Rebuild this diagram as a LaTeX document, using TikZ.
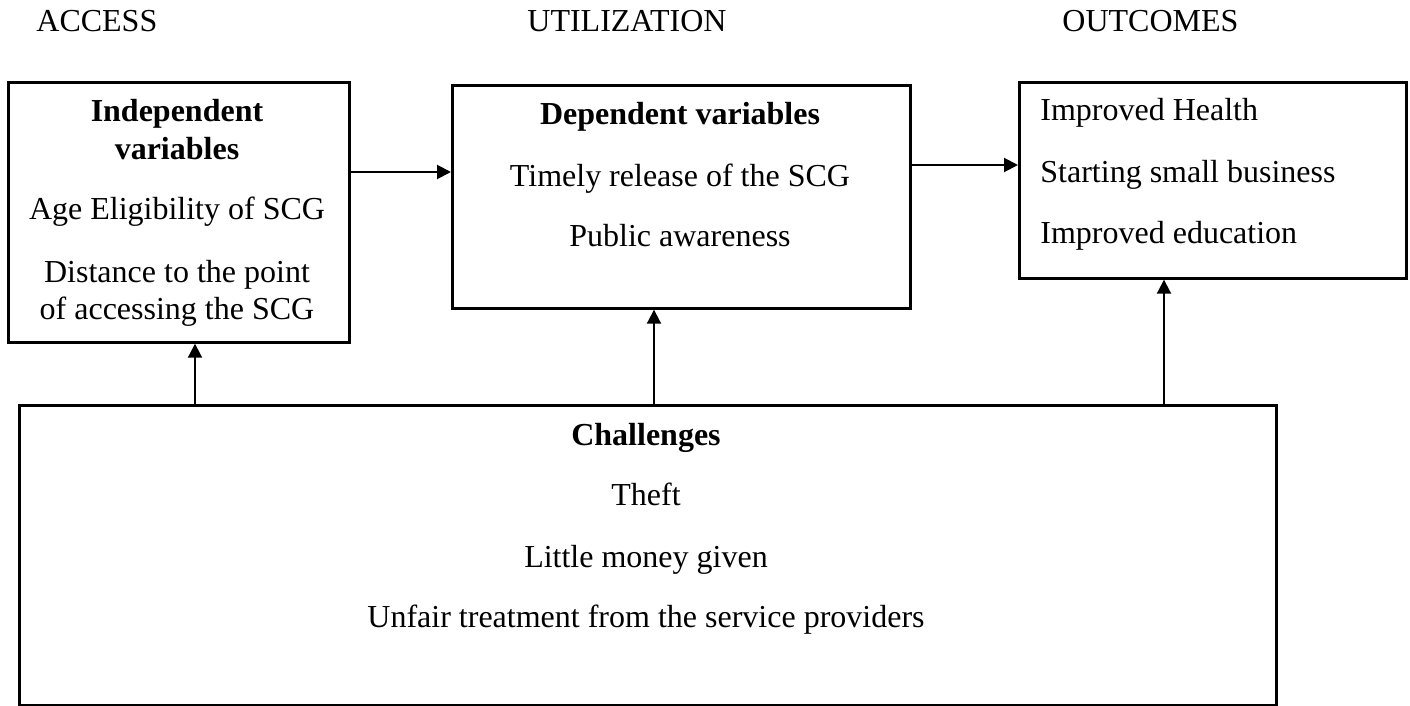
\documentclass[tikz,border=0pt]{standalone}
\usepackage{fontspec}
\setmainfont{Liberation Serif}
\usetikzlibrary{arrows.meta}
\begin{document}
\begin{tikzpicture}[x=0.5pt,y=-0.5pt,
  box/.style={draw,line width=1.35pt,inner sep=0pt,anchor=north west},
  txt/.style={inner sep=0pt,anchor=base,font=\fontsize{16pt}{19pt}\selectfont},
  ltxt/.style={txt,anchor=base west},
  btxt/.style={txt,font=\fontsize{16pt}{19pt}\selectfont\bfseries},
  arr/.style={line width=1pt,-{Triangle[length=7pt,width=7pt]}}]
\useasboundingbox (0,0) rectangle (1410,706);
% headers
\node[ltxt] (h1) at (36,32) {ACCESS};
\node[ltxt] (h2) at (527,32) {UTILIZATION};
\node[ltxt] (h3) at (1062,32) {OUTCOMES};
% boxes
\node[box,minimum width=170.5pt,minimum height=130pt] (b1) at (7,81) {};
\node[box,minimum width=229pt,minimum height=111.5pt] (b2) at (451,84) {};
\node[box,minimum width=193.5pt,minimum height=98pt] (b3) at (1018,81) {};
\node[box,minimum width=628.5pt,minimum height=150pt] (b4) at (18,404) {};
% box 1 text
\node[btxt] (t11) at (177,122) {Independent};
\node[btxt] (t12) at (177,160) {variables};
\node[txt] (t13) at (177,220) {Age Eligibility of SCG};
\node[txt] (t14) at (177,283) {Distance to the point};
\node[txt] (t15) at (177,320) {of accessing the SCG};
% box 2 text
\node[btxt] (t21) at (680,125) {Dependent variables};
\node[txt] (t22) at (680,187) {Timely release of the SCG};
\node[txt] (t23) at (680,247) {Public awareness};
% box 3 text
\node[ltxt] (t31) at (1040,121) {Improved Health};
\node[ltxt] (t32) at (1040,183) {Starting small business};
\node[ltxt] (t33) at (1040,243) {Improved education};
% box 4 text
\node[btxt] (t41) at (646,445) {Challenges};
\node[txt] (t42) at (646,505) {Theft};
\node[txt] (t43) at (646,567) {Little money given};
\node[txt] (t44) at (646,627) {Unfair treatment from the service providers};
% arrows
\draw[arr] (b1.east |- 0,172) -- (b2.west |- 0,172);
\draw[arr] (b2.east |- 0,165) -- (b3.west |- 0,165);
\draw[arr] (b4.north -| 195,0) -- (b1.south -| 195,0);
\draw[arr] (b4.north -| 654,0) -- (b2.south -| 654,0);
\draw[arr] (b4.north -| 1164,0) -- (b3.south -| 1164,0);
\end{tikzpicture}
\end{document}
